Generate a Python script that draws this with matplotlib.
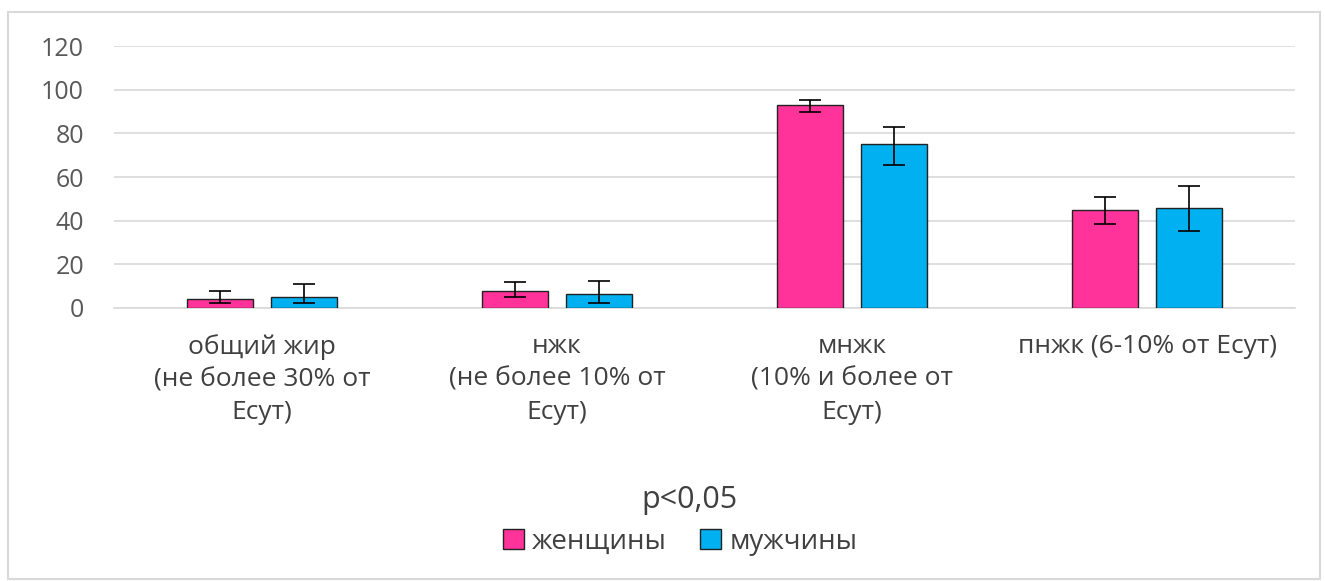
import matplotlib.pyplot as plt
import numpy as np
from matplotlib.patches import Rectangle

plt.rcParams['font.family'] = ['Open Sans', 'DejaVu Sans']

categories = ["общий жир\n(не более 30% от\nЕсут)",
              "нжк\n(не более 10% от\nЕсут)",
              "мнжк\n(10% и более от\nЕсут)",
              "пнжк (6-10% от Есут)"]
women = [4.1, 7.8, 93.0, 45.0]
women_up = [3.7, 4.1, 2.1, 6.0]
women_down = [2.0, 2.9, 3.4, 6.3]
men = [5.0, 6.4, 75.1, 45.7]
men_up = [6.0, 6.0, 7.7, 10.2]
men_down = [2.9, 4.1, 9.6, 10.6]

pink = "#FF3399"
blue = "#00B0F0"

fig = plt.figure(figsize=(13.25, 5.81), dpi=100)
fig.patches.append(Rectangle((0.006, 0.004), 0.99, 0.975, transform=fig.transFigure,
                             fill=False, edgecolor="#d9d9d9", linewidth=1.5))
ax = fig.add_axes([0.0864, 0.4699, 0.8906, 0.4509])

x = np.arange(len(categories))
w = 0.224
off = 0.141
err_kw = dict(ecolor="black", capsize=8, elinewidth=1.2, capthick=1.2)
ax.bar(x - off, women, w, color=pink, edgecolor="#222222", linewidth=1,
       yerr=[women_down, women_up], error_kw=err_kw, label="женщины", zorder=3)
ax.bar(x + off, men, w, color=blue, edgecolor="#222222", linewidth=1,
       yerr=[men_down, men_up], error_kw=err_kw, label="мужчины", zorder=3)

ax.set_xlim(-0.5, 3.5)
ax.set_ylim(0, 120)
ax.set_yticks(range(0, 121, 20))
ax.yaxis.grid(True, color="#d9d9d9", linewidth=1.2, zorder=0)
for s in ["top", "right", "left"]:
    ax.spines[s].set_visible(False)
ax.spines["bottom"].set_color("#d9d9d9")
ax.spines["bottom"].set_linewidth(1.2)
ax.tick_params(length=0)
ax.tick_params(axis="y", labelsize=18, labelcolor="#595959", pad=22)
ax.set_xticks(x)
ax.set_xticklabels(categories, fontsize=19, color="#404040", linespacing=1.4)
ax.tick_params(axis="x", pad=19)

fig.text(690 / 1325, 1 - 500 / 581, "p<0,05", fontsize=22, color="#404040",
         ha="center", va="center")
fig.legend(loc="center", bbox_to_anchor=(680 / 1325, 1 - 542 / 581), ncol=2,
           frameon=False, fontsize=20, labelcolor="#404040", handlelength=0.75,
           handleheight=0.75, handletextpad=0.3, columnspacing=1.2)

fig.savefig("out.png", dpi=100)
